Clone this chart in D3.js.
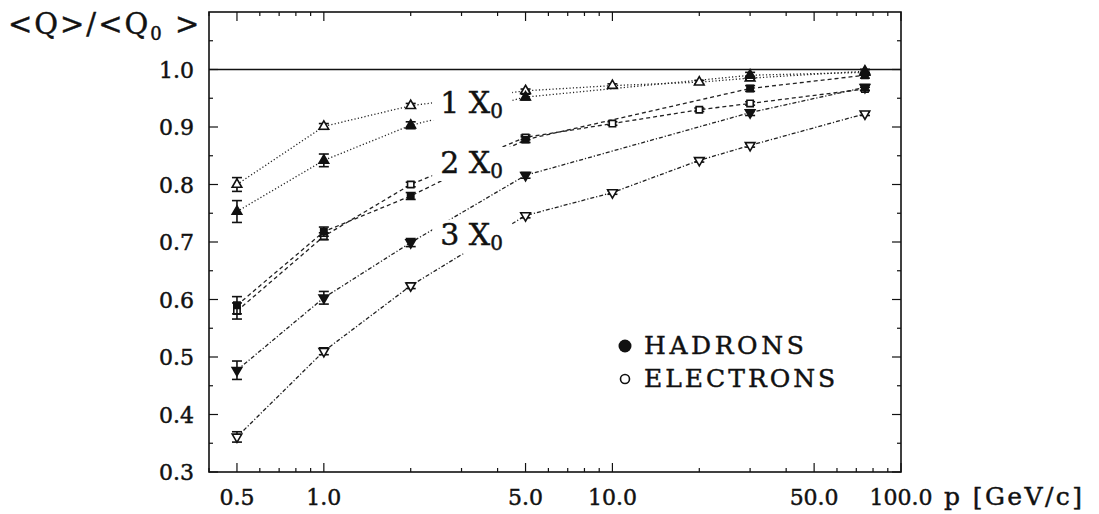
<!DOCTYPE html>
<html>
<head>
<meta charset="utf-8">
<script src="https://cdn.jsdelivr.net/npm/d3@7"></script>
<style>
  body { margin: 0; background: #fff; }
  svg { display: block; }
  text { font-family: "DejaVu Serif", "Liberation Serif", serif; fill: #111; stroke: #111; stroke-width: 0.45px; }
</style>
</head>
<body>
<svg id="chart" width="1099" height="514"></svg>
<script>
// momenta (GeV/c)
const pElectrons = [0.5, 1.0, 2.0, 5.0, 10.0, 20.0, 30.0, 75.0];
const pHadrons = [0.5, 1.0, 2.0, 5.0, 30.0, 75.0];

// <Q>/<Q0> for 1, 2, 3 X0
const elec1 = [0.800, 0.901, 0.937, 0.963, 0.972, 0.978, 0.985, 0.997];
const elec1Err = [0.012, 0.005, 0.004, 0.003, 0.003, 0.003, 0.003, 0.003];
const had1 = [0.753, 0.842, 0.903, 0.952, 0.990, 0.995];
const had1Err = [0.019, 0.011, 0.006, 0.005, 0.005, 0.005];

const elec2 = [0.580, 0.710, 0.800, 0.882, 0.906, 0.930, 0.941, 0.966];
const elec2Err = [0.014, 0.006, 0.004, 0.004, 0.003, 0.003, 0.003, 0.003];
const had2 = [0.590, 0.718, 0.780, 0.878, 0.967, 0.990];
const had2Err = [0.015, 0.008, 0.006, 0.005, 0.005, 0.005];

const elec3 = [0.361, 0.510, 0.624, 0.746, 0.786, 0.842, 0.868, 0.923];
const elec3Err = [0.009, 0.006, 0.005, 0.004, 0.003, 0.003, 0.003, 0.003];
const had3 = [0.477, 0.603, 0.699, 0.816, 0.925, 0.969];
const had3Err = [0.016, 0.011, 0.007, 0.005, 0.005, 0.005];

const xMajor = [0.5, 1.0, 5.0, 10.0, 50.0, 100.0];
const xMajorLabels = ["0.5", "1.0", "5.0", "10.0", "50.0", "100.0"];
const xMinor = [0.4, 0.6, 0.7, 0.8, 0.9, 2, 3, 4, 6, 7, 8, 9, 20, 30, 40, 60, 70, 80, 90];
const yMajor = [0.3, 0.4, 0.5, 0.6, 0.7, 0.8, 0.9, 1.0];
const yMinor = [0.35, 0.45, 0.55, 0.65, 0.75, 0.85, 0.95, 1.05];

const svg = d3.select("#chart");

const x = d3.scaleLog().domain([0.4, 100]).range([209, 901]);
const y = d3.scaleLinear().domain([0.3, 1.1]).range([472, 12]);

const plotLeft = x.range()[0], plotRight = x.range()[1];
const plotTop = y.range()[1], plotBottom = y.range()[0];

// frame
svg.append("rect")
  .attr("x", plotLeft).attr("y", plotTop)
  .attr("width", plotRight - plotLeft).attr("height", plotBottom - plotTop)
  .attr("fill", "none").attr("stroke", "#111").attr("stroke-width", 1.6);

// reference line at 1.0
svg.append("line")
  .attr("x1", plotLeft).attr("x2", plotRight)
  .attr("y1", y(1.0)).attr("y2", y(1.0))
  .attr("stroke", "#111").attr("stroke-width", 1.6);

// ticks, inward on all four sides
function xTicks(values, len) {
  values.forEach(v => {
    svg.append("line").attr("x1", x(v)).attr("x2", x(v))
      .attr("y1", plotBottom).attr("y2", plotBottom - len)
      .attr("stroke", "#111").attr("stroke-width", 1.2);
    svg.append("line").attr("x1", x(v)).attr("x2", x(v))
      .attr("y1", plotTop).attr("y2", plotTop + len)
      .attr("stroke", "#111").attr("stroke-width", 1.2);
  });
}
function yTicks(values, len) {
  values.forEach(v => {
    svg.append("line").attr("x1", plotLeft).attr("x2", plotLeft + len)
      .attr("y1", y(v)).attr("y2", y(v))
      .attr("stroke", "#111").attr("stroke-width", 1.2);
    svg.append("line").attr("x1", plotRight).attr("x2", plotRight - len)
      .attr("y1", y(v)).attr("y2", y(v))
      .attr("stroke", "#111").attr("stroke-width", 1.2);
  });
}
xTicks(xMajor, 9);
xTicks(xMinor, 4);
yTicks(yMajor, 9);
yTicks(yMinor, 4);

svg.selectAll("text.xlab")
  .data(xMajor)
  .enter()
  .append("text")
  .attr("class", "xlab")
  .attr("x", (d, i) => x(d))
  .attr("y", 505)
  .attr("text-anchor", "middle")
  .attr("font-size", "22px")
  .text((d, i) => xMajorLabels[i]);

svg.selectAll("text.ylab")
  .data(yMajor)
  .enter()
  .append("text")
  .attr("class", "ylab")
  .attr("x", 194)
  .attr("y", d => y(d) + 8)
  .attr("text-anchor", "end")
  .attr("font-size", "22px")
  .text(d => d.toFixed(1));

// axis titles
const yTitle = svg.append("text").attr("x", 8).attr("y", 34)
  .attr("font-size", "29px").attr("letter-spacing", "2px");
yTitle.append("tspan").text("<Q>/<Q");
yTitle.append("tspan").attr("font-size", "18px").attr("dy", 6).text("0");
yTitle.append("tspan").attr("dy", -6).text(" >");

svg.append("text").attr("x", 944).attr("y", 505).attr("font-size", "25px")
  .attr("letter-spacing", "2.4px")
  .text("p [GeV/c]");

// series
const series = [
  { p: pElectrons, v: elec1, e: elec1Err, dash: "1.2,2.2", sym: d3.symbolTriangle, rot: 0, filled: false },
  { p: pHadrons, v: had1, e: had1Err, dash: "1.2,2.2", sym: d3.symbolTriangle, rot: 0, filled: true },
  { p: pElectrons, v: elec2, e: elec2Err, dash: "4,3", sym: d3.symbolSquare, rot: 0, filled: false },
  { p: pHadrons, v: had2, e: had2Err, dash: "4,3", sym: d3.symbolSquare, rot: 0, filled: true },
  { p: pElectrons, v: elec3, e: elec3Err, dash: "4,2,1.2,2", sym: d3.symbolTriangle, rot: 180, filled: false },
  { p: pHadrons, v: had3, e: had3Err, dash: "4,2,1.2,2", sym: d3.symbolTriangle, rot: 180, filled: true }
];

const line = d3.line().x(d => x(d[0])).y(d => y(d[1]));

series.forEach(s => {
  const pts = s.p.map((p, i) => [p, s.v[i], s.e[i]]);
  svg.append("path")
    .attr("d", line(pts))
    .attr("fill", "none")
    .attr("stroke", "#222")
    .attr("stroke-width", 1.3)
    .attr("stroke-dasharray", s.dash);
});

// labels with white background interrupting lines
const labels = [
  { n: "1", v: 0.925, px: 2.53 },
  { n: "2", v: 0.820, px: 2.53 },
  { n: "3", v: 0.694, px: 2.53 }
];
labels.forEach(l => {
  const g = svg.append("g");
  g.append("rect")
    .attr("x", x(l.px) - 8).attr("y", y(l.v) - 26)
    .attr("width", 80).attr("height", 34)
    .attr("fill", "#fff");
  const t = g.append("text")
    .attr("x", x(l.px)).attr("y", y(l.v))
    .attr("font-size", "30px");
  t.append("tspan").text(l.n + " X");
  t.append("tspan").attr("font-size", "20px").attr("dy", 5).text("0");
});

series.forEach(s => {
  const pts = s.p.map((p, i) => [p, s.v[i], s.e[i]]);
  const g = svg.append("g");
  pts.forEach(d => {
    const cx = x(d[0]);
    g.append("line").attr("x1", cx).attr("x2", cx)
      .attr("y1", y(d[1] - d[2])).attr("y2", y(d[1] + d[2]))
      .attr("stroke", "#111").attr("stroke-width", 1.6);
    [d[1] - d[2], d[1] + d[2]].forEach(v => {
      g.append("line").attr("x1", cx - 5).attr("x2", cx + 5)
        .attr("y1", y(v)).attr("y2", y(v))
        .attr("stroke", "#111").attr("stroke-width", 1.6);
    });
    g.append("path")
      .attr("d", d3.symbol().type(s.sym).size(40)())
      .attr("transform", `translate(${cx},${y(d[1])}) rotate(${s.rot})`)
      .attr("fill", s.filled ? "#111" : "#fff")
      .attr("stroke", "#111")
      .attr("stroke-width", 1.6);
  });
});

// legend
svg.append("circle").attr("cx", 625).attr("cy", 346).attr("r", 6.5).attr("fill", "#111");
svg.append("text").attr("x", 644).attr("y", 354).attr("font-size", "25px")
  .attr("letter-spacing", "3.6px").text("HADRONS");
svg.append("circle").attr("cx", 625).attr("cy", 379).attr("r", 4.5)
  .attr("fill", "none").attr("stroke", "#111").attr("stroke-width", 1.6);
svg.append("text").attr("x", 644).attr("y", 387).attr("font-size", "25px")
  .attr("letter-spacing", "3.0px").text("ELECTRONS");
</script>
</body>
</html>
